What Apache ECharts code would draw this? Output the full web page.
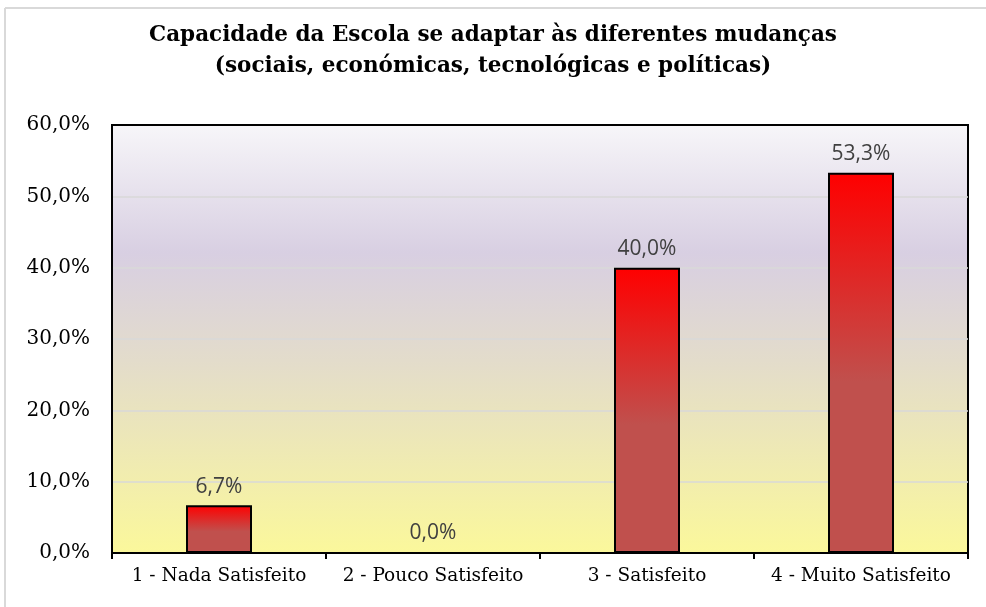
<!DOCTYPE html>
<html><head><meta charset="utf-8">
<script src="https://cdn.jsdelivr.net/npm/echarts@6/dist/echarts.min.js"></script>
<style>html,body{margin:0;padding:0;background:#fff}#c{width:986px;height:607px}</style>
</head><body><div id="c"></div>
<script>
const titleLines = ['Capacidade da Escola se adaptar às diferentes mudanças', '(sociais, económicas, tecnológicas e políticas)'];
const categories = ['1 - Nada Satisfeito', '2 - Pouco Satisfeito', '3 - Satisfeito', '4 - Muito Satisfeito'];
const values = [6.7, 0.0, 40.0, 53.3];
const yTicks = [0, 10, 20, 30, 40, 50, 60];

const chart = echarts.init(document.getElementById('c'), null, {renderer: 'canvas'});
const fmt = v => v.toFixed(1).replace('.', ',') + '%';
chart.setOption({
  animation: false,
  backgroundColor: '#fff',
  graphic: [
    {type: 'line', shape: {x1: 5, y1: 8, x2: 986, y2: 8}, style: {stroke: '#d9d9d9', lineWidth: 2}, z: 0},
    {type: 'line', shape: {x1: 5, y1: 8, x2: 5, y2: 607}, style: {stroke: '#d9d9d9', lineWidth: 2}, z: 0}
  ],
  title: {
    text: titleLines.join('\n'),
    left: 'center', top: 15,
    textStyle: {fontFamily: 'DejaVu Serif', fontWeight: 'bold', fontSize: 21.5, lineHeight: 31, color: '#000'}
  },
  grid: {left: 112, right: 18, top: 125, bottom: 54, show: true, borderColor: '#000', borderWidth: 2,
    backgroundColor: new echarts.graphic.LinearGradient(0, 0, 0, 1, [
      {offset: 0, color: '#f7f6f9'},
      {offset: 0.3, color: '#d8cfe2'},
      {offset: 0.55, color: '#e3dccb'},
      {offset: 1, color: '#fbf89b'}
    ])},
  xAxis: {
    type: 'category', data: categories,
    axisLine: {lineStyle: {color: '#000', width: 2}},
    axisTick: {show: true, interval: 0, length: 6, lineStyle: {color: '#000', width: 2}},
    axisLabel: {interval: 0, fontFamily: 'DejaVu Serif', fontSize: 18.5, color: '#000', margin: 14}
  },
  yAxis: {
    type: 'value', min: 0, max: 60, interval: 10,
    axisLine: {show: true, lineStyle: {color: '#000', width: 2}},
    splitLine: {showMaxLine: false, showMinLine: false, lineStyle: {color: '#d9d9d9', width: 1.5}},
    axisLabel: {fontFamily: 'DejaVu Serif', fontSize: 20, color: '#000', margin: 22,
      formatter: v => v.toFixed(1).replace('.', ',') + '%'}
  },
  series: [{
    type: 'bar', data: values, barWidth: 66,
    itemStyle: {
      borderColor: '#000', borderWidth: 2,
      color: new echarts.graphic.LinearGradient(0, 0, 0, 1, [
        {offset: 0, color: '#ff0000'},
        {offset: 0.55, color: '#c0504d'},
        {offset: 1, color: '#c0504d'}
      ])
    },
    label: {show: true, position: 'top', distance: 8, formatter: p => fmt(p.value),
      fontFamily: 'Open Sans', fontSize: 21, color: '#404040'}
  }]
});
</script></body></html>
